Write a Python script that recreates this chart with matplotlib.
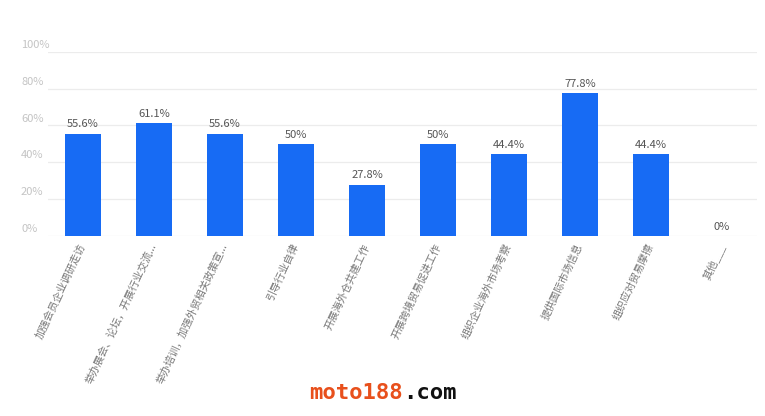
import numpy as np
import matplotlib
matplotlib.use("Agg")
import matplotlib.pyplot as plt

plt.rcParams['font.family'] = ['Noto Sans CJK SC', 'DejaVu Sans']

categories = [
    "加强会员企业调研走访",
    "举办展会、论坛，开展行业交流...",
    "举办培训，加强外贸相关政策宣...",
    "引导行业自律",
    "开展海外仓共建工作",
    "开展跨境贸易促进工作",
    "组织企业海外市场考察",
    "提供国际市场信息",
    "组织应对贸易摩擦",
    "其他___",
]
values = [55.6, 61.1, 55.6, 50, 27.8, 50, 44.4, 77.8, 44.4, 0]
value_labels = ["55.6%", "61.1%", "55.6%", "50%", "27.8%", "50%", "44.4%", "77.8%", "44.4%", "0%"]
yticks = [0, 20, 40, 60, 80, 100]
ytick_labels = ["0%", "20%", "40%", "60%", "80%", "100%"]

BAR_COLOR = "#176bf4"
GRID_COLOR = "#ececec"

fig = plt.figure(figsize=(7.65, 4.16), dpi=100)
ax = fig.add_axes([0.0621, 0.4334, 0.928, 0.4417])

x = np.arange(len(categories))
ax.bar(x, values, width=0.5, color=BAR_COLOR, zorder=2)

ax.set_xlim(-0.5, len(categories) - 0.5)
ax.set_ylim(0, 100)

# gridlines + y labels (left aligned, a bit above the line)
for t, lab in zip(yticks, ytick_labels):
    ax.axhline(t, color=GRID_COLOR, lw=0.9, zorder=1)
    ax.annotate(lab, xy=(-0.0373, t), xycoords=("axes fraction", "data"),
                xytext=(0, 5), textcoords="offset points",
                ha="left", va="center", fontsize=8, color="#c4c4c4")

for xi, v, lab in zip(x, values, value_labels):
    ax.annotate(lab, xy=(xi, v), xytext=(0, 3), textcoords="offset points",
                ha="center", va="bottom", fontsize=8, color="#555555")

ax.set_yticks([])
ax.set_xticks(x)
ax.set_xticklabels(categories, rotation=65, ha="right", va="center",
                   rotation_mode="anchor", fontsize=7.5, color="#777777")
ax.tick_params(axis="x", length=0, pad=6)
for s in ax.spines.values():
    s.set_visible(False)

# watermark
fig.text(0.527, 0.055, "moto188", ha="right", va="center", fontsize=16,
         fontweight="bold", family="DejaVu Sans Mono", color="#e8501c")
fig.text(0.527, 0.055, ".com", ha="left", va="center", fontsize=16,
         fontweight="bold", family="DejaVu Sans Mono", color="#111111")

fig.savefig("out.png", dpi=100)
